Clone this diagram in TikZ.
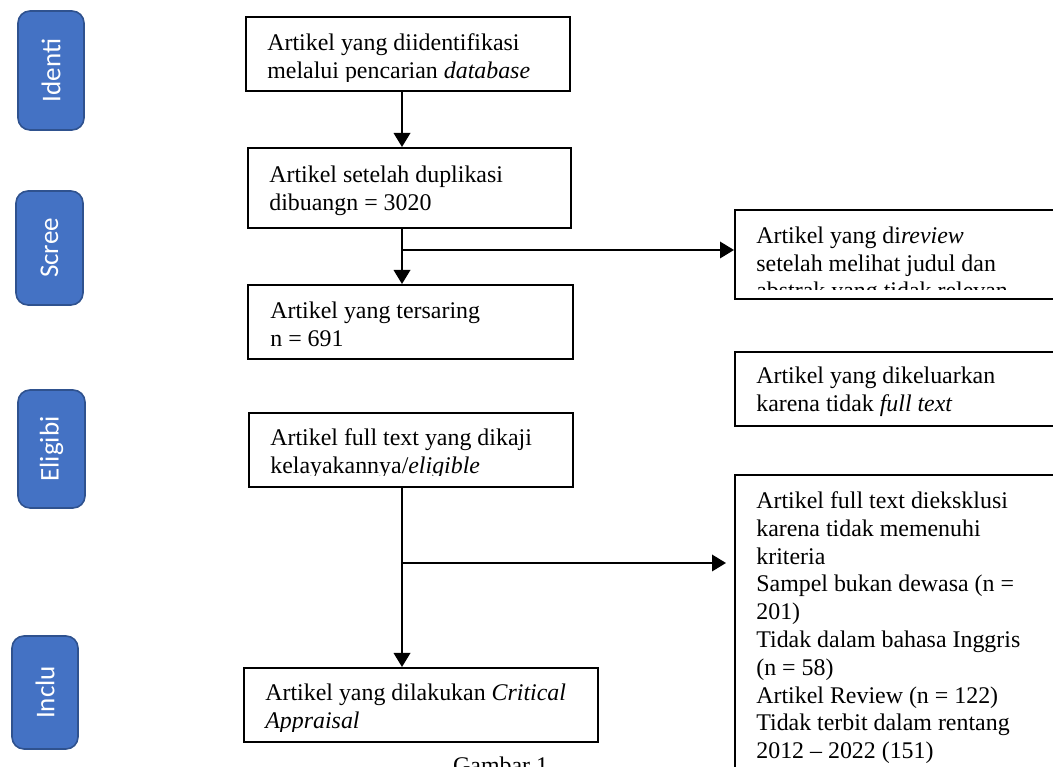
\documentclass[tikz,border=0pt]{standalone}
\usepackage{fontspec}
\setmainfont{Liberation Serif}
\newfontfamily\stagefont{Carlito}
\usetikzlibrary{arrows.meta}
\definecolor{stageblue}{HTML}{4472C4}
\definecolor{stageedge}{HTML}{2F528F}

\begin{document}
\begin{tikzpicture}[>={Triangle[length=2.8mm,width=3.3mm]},
  font=\fontsize{13.6pt}{15.8pt}\selectfont,
  stage/.style={draw=stageedge,line width=0.9pt,fill=stageblue,rounded corners=2.4mm,
    rotate=90,text=white,font=\stagefont\fontsize{15.4pt}{18pt}\selectfont},
  box/.style={draw,line width=1.1pt,inner sep=0pt,anchor=north west},
  txt/.style={inner sep=0pt,anchor=north west,align=left},
  link/.style={line width=1.1pt}]
\useasboundingbox (0,0) rectangle (21.06,-15.34);
\clip (0,0) rectangle (21.06,-15.34);

% stages on the left
\node[stage,minimum width=2.38cm,minimum height=1.32cm] (identi) at (1.02,-1.41) {Identi};
\node[stage,minimum width=2.28cm,minimum height=1.34cm] (scree) at (0.99,-4.96) {Scree};
\node[stage,minimum width=2.36cm,minimum height=1.34cm] (eligibi) at (1.03,-8.98) {Eligibi};
\node[stage,minimum width=2.26cm,minimum height=1.32cm] (inclu) at (0.90,-13.85) {Inclu};

% main column
\node[box,minimum width=6.48cm,minimum height=1.48cm] (found) at (4.90,-0.32) {};
\node[box,minimum width=6.46cm,minimum height=1.60cm] (dedup) at (4.94,-2.94) {};
\node[box,minimum width=6.50cm,minimum height=1.48cm] (screened) at (4.94,-5.68) {};
\node[box,minimum width=6.48cm,minimum height=1.48cm] (fulltext) at (4.96,-8.24) {};
\node[box,minimum width=7.08cm,minimum height=1.48cm] (included) at (4.86,-13.34) {};

% excluded column
\node[box,minimum width=6.60cm,minimum height=1.78cm] (excl1) at (14.68,-4.18) {};
\node[box,minimum width=6.60cm,minimum height=1.48cm] (excl2) at (14.68,-7.02) {};
\node[box,minimum width=6.60cm,minimum height=6.60cm] (excl3) at (14.68,-9.48) {};

% texts
\begin{scope}
\clip (found.north west) rectangle ([yshift=0.21cm]found.south east);
\node[txt] (foundtext) at ([shift={(0.44,-0.35)}]found.north west)
  {Artikel yang diidentifikasi\\melalui pencarian \textit{database}};
\end{scope}
\node[txt] (dedupttext) at ([shift={(0.44,-0.37)}]dedup.north west)
  {Artikel setelah duplikasi\\dibuangn = 3020};
\node[txt] (screenedtext) at ([shift={(0.46,-0.35)}]screened.north west)
  {Artikel yang tersaring\\n = 691};
\begin{scope}
\clip (fulltext.north west) rectangle ([yshift=0.24cm]fulltext.south east);
\node[txt] (fulltexttext) at ([shift={(0.44,-0.33)}]fulltext.north west)
  {Artikel full text yang dikaji\\kelayakannya/\textit{eligible}};
\end{scope}
\begin{scope}
\clip (included.north west) rectangle ([yshift=0.22cm]included.south east);
\node[txt] (includedtext) at ([shift={(0.44,-0.33)}]included.north west)
  {Artikel yang dilakukan \textit{Critical}\\\textit{Appraisal}};
\end{scope}
\begin{scope}
\clip (excl1.north west) rectangle ([yshift=0.21cm]excl1.south east);
\node[txt] (excl1text) at ([shift={(0.44,-0.35)}]excl1.north west)
  {Artikel yang di\textit{review}\\setelah melihat judul dan\\abstrak yang tidak relevan};
\end{scope}
\node[txt] (excl2text) at ([shift={(0.44,-0.32)}]excl2.north west)
  {Artikel yang dikeluarkan\\karena tidak \textit{full text}};
\node[txt] (excl3text) at ([shift={(0.44,-0.35)}]excl3.north west)
  {Artikel full text dieksklusi\\karena tidak memenuhi\\kriteria\\Sampel bukan dewasa (n =\\201)\\
   Tidak dalam bahasa Inggris\\(n = 58)\\Artikel Review (n = 122)\\Tidak terbit dalam rentang\\2012 -- 2022 (151)};

% connectors
\coordinate (trunk) at (8.04,0);
\coordinate (split1) at (8.04,-5.00);
\coordinate (split2) at (8.04,-11.26);
\draw[link,->] (found.south -| trunk) -- (dedup.north -| trunk);
\draw[link,->] (dedup.south -| trunk) -- (screened.north -| trunk);
\draw[link,->] (split1) -- (split1 -| excl1.west);
\draw[link,->] (fulltext.south -| trunk) -- (included.north -| trunk);
\draw[link,->,shorten >=0.16cm] (split2) -- (split2 -| excl3.west);

\node[anchor=base west] (caption) at (8.94,-15.48) {Gambar 1};
\end{tikzpicture}
\end{document}
